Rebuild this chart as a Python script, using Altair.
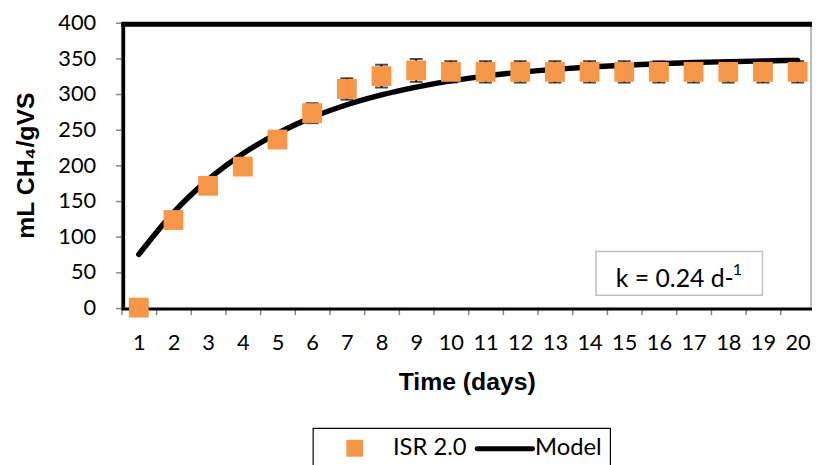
import altair as alt
import pandas as pd

# ---- data ----
days = list(range(1, 21))
isr_values = [0, 123, 171, 198, 236, 273, 307, 325, 333, 331,
              331, 331, 331, 331, 331, 331, 331, 331, 331, 331]
isr_errors = [0, 4, 4, 4, 5, 14, 15, 16, 16, 15,
              15, 15, 15, 15, 15, 15, 15, 15, 15, 15]
model_values = [74.7, 133.4, 179.6, 216.0, 244.6, 267.1, 284.8, 298.7, 309.6, 318.3,
                325.0, 330.4, 334.5, 337.8, 340.4, 342.5, 344.1, 345.3, 346.3, 347.1]
y_ticks = [0, 50, 100, 150, 200, 250, 300, 350, 400]
series_names = ["ISR 2.0", "Model"]
k_label = "k = 0.24 d-"
k_sup = "1"

df = pd.DataFrame({"day": days, "isr": isr_values, "err": isr_errors, "model": model_values})
df["lo"] = df["isr"] - df["err"]
df["hi"] = df["isr"] + df["err"]

W = 697
H = 287.6
BAND = 35.0
X_MAX = 0.5 + W / BAND

ORANGE = "#F79646"
AXIS_GRAY = "#868686"
CAL = "Lato"
ARIAL = "Liberation Sans"

xs = alt.Scale(domain=[0.5, X_MAX], nice=False, zero=False)
ys = alt.Scale(domain=[0, 400], nice=False, zero=False)

x_axis = alt.Axis(values=days, title="Time (days)", tickOffset=-BAND / 2, labelOffset=BAND / 2,
                  grid=False, domainColor=AXIS_GRAY, domainWidth=2, tickColor=AXIS_GRAY,
                  tickWidth=1.5, tickSize=7, labelFont=CAL, labelFontSize=22, labelColor="black",
                  labelPadding=18, labelFlush=False, labelOverlap=False,
                  titleFont=ARIAL, titleFontSize=25, titleFontWeight="bold", titleColor="black",
                  titlePadding=17)
y_axis = alt.Axis(values=y_ticks, title="mL CH\u2084/gVS", grid=False, domainColor=AXIS_GRAY,
                  domainWidth=2, tickColor=AXIS_GRAY, tickWidth=1.5, tickSize=6,
                  labelFont=CAL, labelFontSize=22, labelColor="black", labelPadding=20,
                  titleFont=ARIAL, titleFontSize=25, titleFontWeight="bold", titleColor="black",
                  titlePadding=19)

X = alt.X("day:Q", scale=xs, axis=x_axis)

model_line = alt.Chart(df).mark_line(color="black", strokeWidth=5.5, interpolate="monotone",
                                     strokeCap="round").encode(
    x=X, y=alt.Y("model:Q", scale=ys, axis=y_axis))

err_bars = alt.Chart(df).mark_errorbar(ticks=alt.MarkConfig(size=13, color="black", strokeWidth=2),
                                       color="black", thickness=2).encode(
    x=X, y=alt.Y("lo:Q", scale=ys, axis=y_axis), y2="hi:Q")

points = alt.Chart(df).mark_point(shape="square", filled=True, size=400, color=ORANGE,
                                  opacity=1).encode(
    x=X, y=alt.Y("isr:Q", scale=ys, axis=y_axis))

one = alt.Data(values=[{"a": 1}])

# plot frame
frame_top = alt.Chart(one).mark_rule(color="black", strokeWidth=5).encode(
    x=alt.value(0), x2=alt.value(W), y=alt.value(1.5))
frame_left = alt.Chart(one).mark_rule(color="black", strokeWidth=3.5).encode(
    x=alt.value(2), y=alt.value(0), y2=alt.value(H))
frame_bottom = alt.Chart(one).mark_rule(color="black", strokeWidth=3).encode(
    x=alt.value(0), x2=alt.value(W), y=alt.value(H + 1.5))
frame_right = alt.Chart(one).mark_rule(color="#A6A6A6", strokeWidth=1.5).encode(
    x=alt.value(W - 1), y=alt.value(-1), y2=alt.value(H + 2))

# k annotation box
k_box = alt.Chart(one).mark_rect(fill="white", stroke="#BFBFBF", strokeWidth=1.5).encode(
    x=alt.value(479), x2=alt.value(647), y=alt.value(231), y2=alt.value(275))
k_text = alt.Chart(one).mark_text(font=CAL, fontSize=25, align="left", baseline="alphabetic",
                                  color="black").encode(
    x=alt.value(499), y=alt.value(267), text=alt.value(k_label))
k_sup_text = alt.Chart(one).mark_text(font=CAL, fontSize=16, align="left", baseline="alphabetic",
                                      color="black").encode(
    x=alt.value(617), y=alt.value(255), text=alt.value(k_sup))

# legend (drawn below the plot)
leg_box = alt.Chart(one).mark_rect(fill="white", stroke="black", strokeWidth=1.2).encode(
    x=alt.value(193.5), x2=alt.value(493.5), y=alt.value(409.5), y2=alt.value(460))
leg_sq = alt.Chart(one).mark_point(shape="square", filled=True, size=290, color=ORANGE,
                                   opacity=1).encode(x=alt.value(235.5), y=alt.value(429.5))
leg_t1 = alt.Chart(one).mark_text(font=CAL, fontSize=24, align="left", baseline="alphabetic",
                                  color="black").encode(
    x=alt.value(274), y=alt.value(436.5), text=alt.value(series_names[0]))
leg_line = alt.Chart(one).mark_rule(color="black", strokeWidth=5, strokeCap="round").encode(
    x=alt.value(359), x2=alt.value(415), y=alt.value(430))
leg_t2 = alt.Chart(one).mark_text(font=CAL, fontSize=24, align="left", baseline="alphabetic",
                                  color="black").encode(
    x=alt.value(417.5), y=alt.value(436.5), text=alt.value(series_names[1]))

chart = alt.layer(
    frame_right, frame_top, frame_bottom, frame_left,
    model_line, err_bars, points,
    k_box, k_text, k_sup_text,
    leg_box, leg_sq, leg_t1, leg_line, leg_t2,
).properties(
    width=W, height=H,
    padding={"left": 114.5, "top": 12.7, "right": 0, "bottom": 158},
    autosize=alt.AutoSizeParams(type="none"),
    background="white",
).configure_view(stroke=None)

chart.save("out.html", embed_options={"renderer": "svg", "actions": False})
